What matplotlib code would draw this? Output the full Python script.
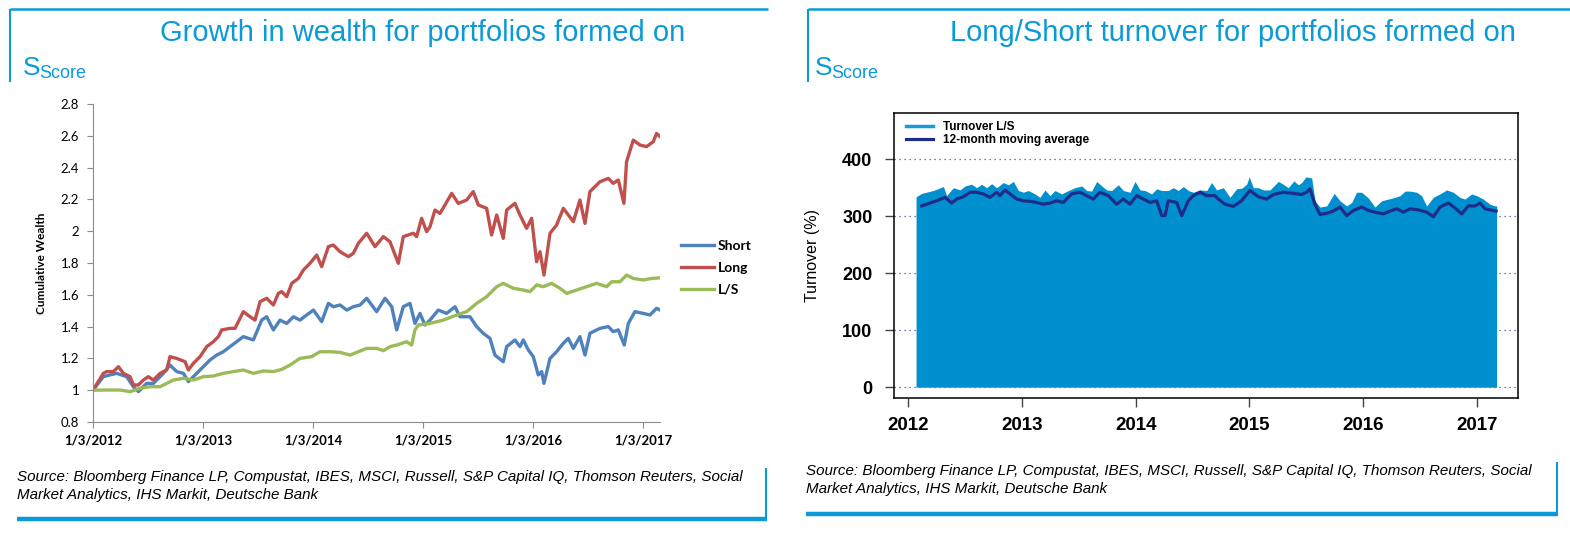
import numpy as np
import matplotlib.pyplot as plt
from matplotlib.lines import Line2D

# ---- left panel: cumulative wealth, x = years since 1/3/2012 ----
short_t = [0, .094, .155, .216, .307, .367, .413, .488, .549, .640, .700, .761, .822, .867, .943,
           1.003, 1.064, 1.125, 1.185, 1.246, 1.306, 1.367, 1.458, 1.534, 1.579, 1.640, 1.700, 1.761,
           1.822, 1.882, 1.943, 2.004, 2.079, 2.140, 2.185, 2.246, 2.307, 2.367, 2.428, 2.488, 2.579,
           2.655, 2.716, 2.761, 2.821, 2.882, 2.927, 2.973, 3.018, 3.064, 3.139, 3.215, 3.291, 3.336,
           3.427, 3.488, 3.548, 3.609, 3.654, 3.730, 3.761, 3.836, 3.882, 3.912, 3.958, 4.003, 4.048,
           4.079, 4.100, 4.155, 4.215, 4.276, 4.321, 4.367, 4.427, 4.473, 4.518, 4.609, 4.685, 4.730,
           4.776, 4.830, 4.867, 4.927, 5.003, 5.064, 5.124, 5.155]
short_v = [1.00, 1.085, 1.096, 1.106, 1.085, 1.022, 0.991, 1.043, 1.043, 1.106, 1.158, 1.117, 1.106,
           1.054, 1.106, 1.148, 1.190, 1.221, 1.242, 1.274, 1.305, 1.337, 1.316, 1.441, 1.462, 1.379,
           1.441, 1.420, 1.462, 1.441, 1.473, 1.504, 1.431, 1.546, 1.525, 1.536, 1.504, 1.525, 1.536,
           1.578, 1.494, 1.578, 1.525, 1.379, 1.525, 1.546, 1.420, 1.483, 1.410, 1.441, 1.504, 1.483,
           1.525, 1.462, 1.462, 1.400, 1.358, 1.326, 1.221, 1.179, 1.274, 1.316, 1.274, 1.316, 1.253,
           1.211, 1.096, 1.117, 1.043, 1.200, 1.242, 1.295, 1.326, 1.263, 1.337, 1.221, 1.358, 1.389,
           1.400, 1.368, 1.379, 1.284, 1.420, 1.494, 1.483, 1.473, 1.515, 1.504]

long_t = [0, .094, .125, .185, .231, .276, .337, .367, .413, .458, .503, .549, .610, .670, .700, .761,
          .837, .867, .913, .973, 1.034, 1.094, 1.140, 1.170, 1.246, 1.291, 1.367, 1.428, 1.473, 1.519,
          1.579, 1.640, 1.685, 1.716, 1.761, 1.807, 1.867, 1.913, 1.973, 2.034, 2.079, 2.140, 2.185,
          2.246, 2.322, 2.367, 2.413, 2.488, 2.564, 2.640, 2.700, 2.776, 2.821, 2.912, 2.942, 2.988,
          3.033, 3.064, 3.109, 3.154, 3.200, 3.261, 3.321, 3.397, 3.457, 3.503, 3.579, 3.624, 3.670,
          3.730, 3.761, 3.836, 3.882, 3.942, 3.988, 4.033, 4.064, 4.100, 4.155, 4.215, 4.276, 4.367,
          4.427, 4.473, 4.518, 4.609, 4.685, 4.730, 4.776, 4.827, 4.851, 4.912, 4.973, 5.033, 5.094,
          5.124, 5.155]
long_v = [1.00, 1.106, 1.117, 1.117, 1.148, 1.106, 1.085, 1.033, 1.033, 1.064, 1.085, 1.064, 1.106,
          1.127, 1.211, 1.200, 1.179, 1.127, 1.169, 1.211, 1.274, 1.305, 1.337, 1.379, 1.389, 1.389,
          1.494, 1.462, 1.441, 1.557, 1.578, 1.536, 1.609, 1.620, 1.588, 1.672, 1.703, 1.756, 1.798,
          1.850, 1.777, 1.903, 1.913, 1.871, 1.840, 1.861, 1.924, 1.987, 1.903, 1.966, 1.934, 1.798,
          1.966, 1.987, 1.966, 2.081, 1.997, 2.028, 2.133, 2.112, 2.165, 2.238, 2.175, 2.196, 2.249,
          2.165, 2.144, 1.976, 2.102, 1.955, 2.133, 2.175, 2.102, 2.018, 2.081, 1.808, 1.871, 1.724,
          1.987, 2.039, 2.144, 2.060, 2.196, 2.049, 2.249, 2.311, 2.332, 2.301, 2.322, 2.175, 2.437,
          2.573, 2.542, 2.532, 2.563, 2.615, 2.595]

ls_t = [0, .125, .246, .337, .428, .519, .610, .670, .731, .822, .913, 1.003, 1.094, 1.185, 1.276,
        1.367, 1.458, 1.549, 1.640, 1.716, 1.791, 1.882, 1.988, 2.064, 2.155, 2.246, 2.337, 2.413,
        2.488, 2.579, 2.640, 2.700, 2.761, 2.851, 2.897, 2.927, 2.958, 3.064, 3.185, 3.306, 3.397,
        3.488, 3.579, 3.670, 3.730, 3.821, 3.912, 3.973, 4.033, 4.094, 4.170, 4.245, 4.306, 4.397,
        4.488, 4.579, 4.670, 4.715, 4.791, 4.851, 4.912, 5.003, 5.079, 5.155]
ls_v = [1.00, 1.001, 1.001, 0.991, 1.012, 1.022, 1.022, 1.043, 1.064, 1.075, 1.064, 1.085, 1.089,
        1.106, 1.117, 1.127, 1.106, 1.121, 1.117, 1.131, 1.158, 1.200, 1.211, 1.242, 1.242, 1.238,
        1.221, 1.242, 1.263, 1.263, 1.249, 1.274, 1.284, 1.305, 1.284, 1.379, 1.410, 1.420, 1.441,
        1.473, 1.494, 1.546, 1.588, 1.651, 1.672, 1.641, 1.630, 1.620, 1.662, 1.651, 1.672, 1.641,
        1.609, 1.630, 1.651, 1.672, 1.651, 1.682, 1.682, 1.724, 1.703, 1.693, 1.703, 1.707]

wealth_xlabels = ['1/3/2012', '1/3/2013', '1/3/2014', '1/3/2015', '1/3/2016', '1/3/2017']
wealth_yticks = [0.8, 1, 1.2, 1.4, 1.6, 1.8, 2, 2.2, 2.4, 2.6, 2.8]

# ---- right panel: turnover (%), x = years since start of 2012 ----
turn_t = [.068, .118, .220, .308, .337, .396, .455, .499, .557, .601, .645, .689, .733, .777, .836,
          .880, .924, .968, 1.012, 1.056, 1.114, 1.158, 1.202, 1.246, 1.290, 1.349, 1.408, 1.466,
          1.525, 1.569, 1.613, 1.657, 1.701, 1.745, 1.789, 1.847, 1.891, 1.950, 1.994, 2.038, 2.082,
          2.140, 2.184, 2.228, 2.287, 2.331, 2.375, 2.419, 2.463,
          2.507, 2.566, 2.624, 2.668, 2.712, 2.771, 2.829, 2.888, 2.932, 2.976, 2.999, 3.035, 3.079,
          3.123, 3.181, 3.255, 3.298, 3.342, 3.392, 3.430, 3.460, 3.498, 3.548, 3.577, 3.621, 3.680,
          3.747, 3.797, 3.856, 3.900, 3.943, 3.987, 4.046, 4.105, 4.163, 4.222, 4.281, 4.325, 4.369,
          4.413, 4.471, 4.515, 4.559, 4.618, 4.676, 4.735, 4.794, 4.852, 4.896, 4.955, 4.999, 5.057,
          5.116, 5.160, 5.175]
turn_v = [334, 340, 345, 352, 336, 350, 346, 353, 356, 350, 356, 350, 357, 350, 359, 355, 361, 345,
          342, 345, 339, 333, 346, 336, 345, 339, 345, 350, 353, 345, 344, 361, 353, 346, 345, 355,
          345, 342, 361, 346, 345, 339, 348, 345, 345, 350, 345, 352, 345,
          342, 346, 345, 359, 346, 350, 333, 348, 349, 356, 369, 350, 350, 346, 346, 361, 356, 350,
          362, 355, 359, 369, 367, 327, 316, 318, 340, 327, 318, 324, 342, 342, 332, 316, 327, 330,
          333, 336, 344, 344, 342, 336, 318, 333, 339, 346, 342, 333, 330, 339, 336, 330, 321, 318, 318]

ma_t = [.118, .191, .250, .323, .381, .425, .484, .542, .601, .660, .718, .777, .806, .850, .894,
        .953, 1.012, 1.070, 1.129, 1.187, 1.246, 1.305, 1.363, 1.436, 1.510, 1.568, 1.627, 1.686,
        1.759, 1.832, 1.891, 1.950, 2.009, 2.067, 2.126, 2.185, 2.229, 2.258, 2.287, 2.361, 2.405,
        2.463, 2.507, 2.566, 2.624, 2.697, 2.727, 2.785, 2.859, 2.932, 3.005, 3.079, 3.152, 3.211,
        3.299, 3.386, 3.460, 3.504, 3.533, 3.577, 3.621, 3.680, 3.738, 3.797, 3.856, 3.915, 3.988,
        4.047, 4.105, 4.179, 4.237, 4.296, 4.355, 4.413, 4.487, 4.560, 4.619, 4.678, 4.751, 4.810,
        4.868, 4.927, 4.985, 5.029, 5.073, 5.117, 5.170]
ma_v = [318, 323, 327, 333, 323, 330, 334, 342, 342, 339, 333, 342, 336, 346, 339, 330, 327, 326,
        324, 321, 323, 327, 324, 339, 342, 336, 330, 342, 336, 321, 330, 321, 336, 330, 324, 327,
        301, 301, 327, 324, 301, 327, 336, 342, 336, 336, 330, 321, 317, 327, 345, 334, 330, 338,
        342, 340, 338, 342, 348, 321, 303, 305, 309, 316, 301, 310, 316, 310, 307, 304, 309, 313,
        307, 313, 311, 307, 299, 316, 323, 314, 304, 318, 318, 323, 313, 311, 309]

turn_years = [2012, 2013, 2014, 2015, 2016, 2017]
turn_yticks = [0, 100, 200, 300, 400]

W, H = 1570, 539
BLUE = '#0A9AD8'


def box(l, t, r, b):
    return [l / W, 1 - b / H, (r - l) / W, (b - t) / H]


def fline(fig, x0, y0, x1, y1, lw):
    fig.add_artist(Line2D([x0 / W, x1 / W], [1 - y0 / H, 1 - y1 / H],
                          transform=fig.transFigure, color=BLUE, lw=lw,
                          solid_capstyle='butt'))


fig = plt.figure(figsize=(W / 100, H / 100), dpi=100)

# frames, titles and sources
panels = [
    dict(left=10, right=768, title='Growth in wealth for portfolios formed on', tx=160,
         sx=23, src_x=17, src_y=(477, 495), bx=766, btop=468, bbot=519),
    dict(left=808, right=1570, title='Long/Short turnover for portfolios formed on', tx=950,
         sx=815, src_x=806, src_y=(471, 489), bx=1557, btop=462, bbot=514),
]
src_lines = ['Source: Bloomberg Finance LP, Compustat, IBES, MSCI, Russell, S&P Capital IQ, Thomson Reuters, Social',
             'Market Analytics, IHS Markit, Deutsche Bank']
for p in panels:
    fline(fig, p['left'], 9, p['right'], 9, 1.8)
    fline(fig, p['left'], 9, p['left'], 82, 1.5)
    fig.text(p['tx'] / W, 1 - 33 / H, p['title'], fontsize=21, color=BLUE,
             family='Liberation Sans', ha='left', va='center')
    fig.text(p['sx'] / W, 1 - 75 / H, 'S', fontsize=19, color=BLUE,
             family='Liberation Sans', ha='left', va='baseline')
    fig.text((p['sx'] + 16) / W, 1 - 77.5 / H, 'Score', fontsize=13, color=BLUE,
             family='Liberation Sans', ha='left', va='baseline')
    for line, y in zip(src_lines, p['src_y']):
        fig.text(p['src_x'] / W, 1 - y / H, line, fontsize=10.9, style='italic',
                 family='Liberation Sans', ha='left', va='center')
    fline(fig, p['bx'], p['btop'], p['bx'], p['bbot'], 1.5)
    fline(fig, p['src_x'], p['bbot'], p['bx'] + 1, p['bbot'], 3.2)

# left chart
ax1 = fig.add_axes(box(93, 104, 660, 422))
ax1.plot(short_t, short_v, color='#4F81BD', lw=2.4, label='Short')
ax1.plot(long_t, long_v, color='#C0504D', lw=2.4, label='Long')
ax1.plot(ls_t, ls_v, color='#9BBB59', lw=2.4, label='L/S')
ax1.set_xlim(0, 5.155)
ax1.set_ylim(0.8, 2.8)
ax1.set_yticks(wealth_yticks)
ax1.set_yticklabels([f'{v:g}' for v in wealth_yticks], family='Lato', fontsize=9.5)
ax1.set_xticks(range(len(wealth_xlabels)))
ax1.set_xticklabels(wealth_xlabels, family='Lato', fontsize=9.5, fontweight='bold')
for s in ['top', 'right']:
    ax1.spines[s].set_visible(False)
for s in ['left', 'bottom']:
    ax1.spines[s].set_color('#8C8C8C')
ax1.tick_params(axis='both', direction='out', length=4, color='#8C8C8C')
ax1.tick_params(axis='y', pad=6)
ax1.tick_params(axis='x', pad=5)
ax1.set_ylabel('Cumulative Wealth', family='Lato', fontsize=8.5, fontweight='bold')
ax1.yaxis.set_label_coords(-0.081, 0.5)
ax1.legend(loc='upper left', bbox_to_anchor=(681 / W, 1 - 240 / H),
           bbox_transform=fig.transFigure, frameon=False, borderpad=0, borderaxespad=0,
           handlelength=2.4, handletextpad=0.25, labelspacing=0.72,
           prop=dict(family='Lato', size=10, weight='bold'))

# right chart
ax2 = fig.add_axes(box(894, 113, 1518, 398))
turn_x = 2012 + np.array(turn_t)
ma_x = 2012 + np.array(ma_t)
for v in turn_yticks:
    ax2.axhline(v, color='#3F51B5', lw=0.9, ls=(0, (1, 3)), zorder=1)
ax2.fill_between(turn_x, 0, turn_v, color='#0090CF', lw=0, zorder=2)
ax2.plot(turn_x[:1], turn_v[:1], color='#1A9BD7', lw=2.5, label='Turnover L/S')
ax2.plot(ma_x, ma_v, color='#1F2D8A', lw=2.3, label='12-month moving average', zorder=3)
ax2.set_xlim(2011.874, 2017.363)
ax2.set_ylim(-19, 481)
ax2.set_yticks(turn_yticks)
ax2.set_yticklabels([str(v) for v in turn_yticks], family='Liberation Sans',
                    fontsize=13, fontweight='bold')
ax2.set_xticks(turn_years)
ax2.set_xticklabels([str(y) for y in turn_years], family='Liberation Sans',
                    fontsize=13.5, fontweight='bold')
ax2.tick_params(axis='both', direction='out', length=6.5, width=1, color='#444444')
ax2.tick_params(axis='y', pad=9)
ax2.tick_params(axis='x', pad=7)
for s in ax2.spines.values():
    s.set_linewidth(1.1)
ax2.set_ylabel('Turnover (%)', family='Liberation Sans', fontsize=11.5)
ax2.yaxis.set_label_coords(-0.119, 0.5)
ax2.legend(loc='upper left', bbox_to_anchor=(906 / W, 1 - 121 / H),
           bbox_transform=fig.transFigure, frameon=False, borderpad=0, borderaxespad=0,
           handlelength=2.3, handletextpad=0.85, labelspacing=0.08,
           prop=dict(family='Liberation Sans', size=8.5, weight='bold'))

fig.savefig('out.png', dpi=100)
